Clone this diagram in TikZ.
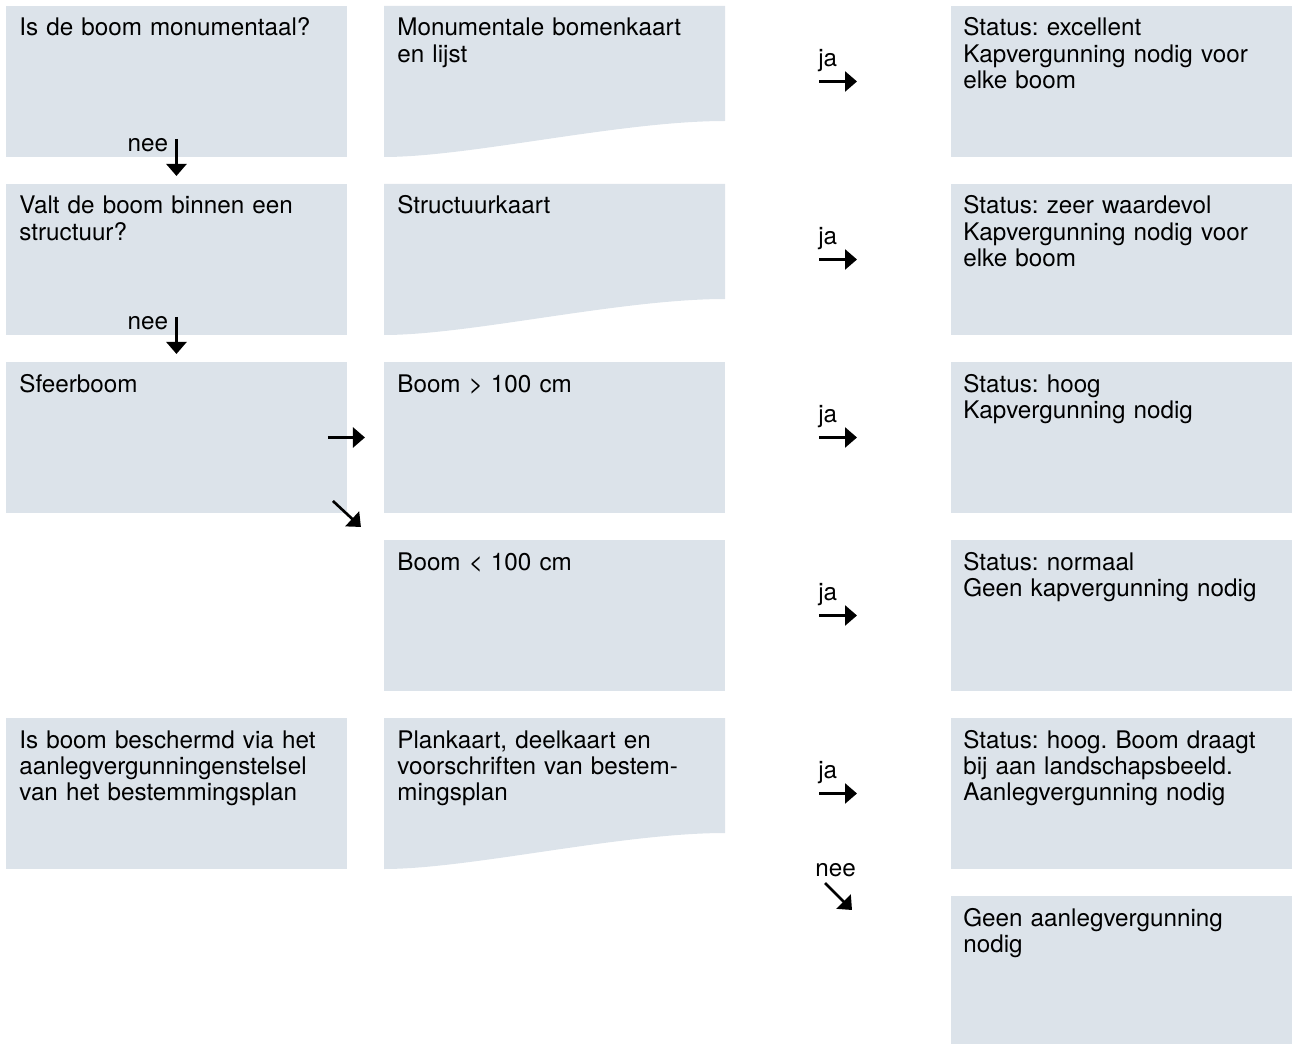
\documentclass[tikz,border=0pt]{standalone}
\usepackage{fontspec}
\setmainfont{TeX Gyre Heros}
\usetikzlibrary{arrows.meta}
\definecolor{boxfill}{HTML}{DCE3EA}
\frenchspacing

\begin{document}
\begin{tikzpicture}[x=0.02cm,y=-0.02cm,
    box/.style={fill=boxfill,inner sep=0,outer sep=0,minimum width=6.82cm,minimum height=3.02cm,anchor=north west},
    txt/.style={anchor=base west,inner sep=0,text width=6.4cm,align=left,font=\fontsize{13.8}{14.8}\selectfont},
    lbl/.style={inner sep=0,font=\fontsize{13.8}{14.8}\selectfont},
    arr/.style={-{Triangle[length=0.24cm,width=0.4cm]},line width=1.5pt}]
  \useasboundingbox (0,0) rectangle (1292,1044);
  % Draw question column
  \node[box] (q1) at (6,6) {};
  \node[txt] (q1t) at ([shift={(13,30)}]q1.north west) {Is de boom monumentaal?};
  \node[box] (q2) at (6,184) {};
  \node[txt] (q2t) at ([shift={(13,30)}]q2.north west) {Valt de boom binnen een\\structuur?};
  \node[box] (q3) at (6,362) {};
  \node[txt] (q3t) at ([shift={(13,30)}]q3.north west) {Sfeerboom};
  \node[box] (q4) at (6,718) {};
  \node[txt] (q4t) at ([shift={(13,30)}]q4.north west) {Is boom beschermd via het\\aanlegvergunningenstelsel\\van het bestemmingsplan};
  % Draw source column (documents and boxes)
  \fill[boxfill] (384,6) coordinate (m1) -- ++(341,0) -- ++(0,115)
    .. controls +(-105,0) and +(86,0) .. ++(-341,36) -- cycle;
  \node[txt] (m1t) at ([shift={(13,30)}]m1) {Monumentale bomenkaart\\en lijst};
  \fill[boxfill] (384,184) coordinate (m2) -- ++(341,0) -- ++(0,115)
    .. controls +(-105,0) and +(86,0) .. ++(-341,36) -- cycle;
  \node[txt] (m2t) at ([shift={(13,30)}]m2) {Structuurkaart};
  \node[box] (m3) at (384,362) {};
  \node[txt] (m3t) at ([shift={(13,30)}]m3.north west) {Boom > 100 cm};
  \node[box] (m4) at (384,540) {};
  \node[txt] (m4t) at ([shift={(13,30)}]m4.north west) {Boom < 100 cm};
  \fill[boxfill] (384,718) coordinate (m5) -- ++(341,0) -- ++(0,115)
    .. controls +(-105,0) and +(86,0) .. ++(-341,36) -- cycle;
  \node[txt] (m5t) at ([shift={(13,30)}]m5) {Plankaart, deelkaart en\\voorschriften van bestem-\\mingsplan};
  % Draw status column
  \node[box] (s1) at (951,6) {};
  \node[txt] (s1t) at ([shift={(12,30)}]s1.north west) {Status: excellent\\Kapvergunning nodig voor\\elke boom};
  \node[box] (s2) at (951,184) {};
  \node[txt] (s2t) at ([shift={(12,30)}]s2.north west) {Status: zeer waardevol\\Kapvergunning nodig voor\\elke boom};
  \node[box] (s3) at (951,362) {};
  \node[txt] (s3t) at ([shift={(12,30)}]s3.north west) {Status: hoog\\Kapvergunning nodig};
  \node[box] (s4) at (951,540) {};
  \node[txt] (s4t) at ([shift={(12,30)}]s4.north west) {Status: normaal\\Geen kapvergunning nodig};
  \node[box] (s5) at (951,718) {};
  \node[txt] (s5t) at ([shift={(12,30)}]s5.north west) {Status: hoog. Boom draagt\\bij aan landschapsbeeld.\\Aanlegvergunning nodig};
  \node[box,minimum height=2.96cm] (s6) at (951,896) {};
  \node[txt] (s6t) at ([shift={(12,30)}]s6.north west) {Geen aanlegvergunning\\nodig};
  % Draw nee arrows
  \draw[arr] ([shift={(0,-18)}]q1.south) -- ([shift={(0,19)}]q1.south);
  \node[lbl,anchor=base east] (nee1) at ([shift={(-8,-5)}]q1.south) {nee};
  \draw[arr] ([shift={(0,-18)}]q2.south) -- ([shift={(0,19)}]q2.south);
  \node[lbl,anchor=base east] (nee2) at ([shift={(-8,-5)}]q2.south) {nee};
  \draw[arr] ([shift={(-126,-13)}]s6.north west) -- ([shift={(-99,14)}]s6.north west);
  \node[lbl,anchor=base west] (nee3) at ([shift={(-136,-20)}]s6.north west) {nee};
  % Draw Sfeerboom arrows
  \draw[arr] ([shift={(-19,0)}]q3.east) -- ([shift={(18,0)}]q3.east);
  \draw[arr] ([shift={(-14,-12)}]q3.south east) -- ([shift={(14,14)}]q3.south east);
  % Draw ja arrows
  \foreach \s in {s1,s2,s3,s4,s5} {
    \draw[arr] ([shift={(-132,0)}]\s.west) -- ([shift={(-94,0)}]\s.west);
    \node[lbl,anchor=base west] (ja-\s) at ([shift={(-133,-15)}]\s.west) {ja};
  }
\end{tikzpicture}
\end{document}
